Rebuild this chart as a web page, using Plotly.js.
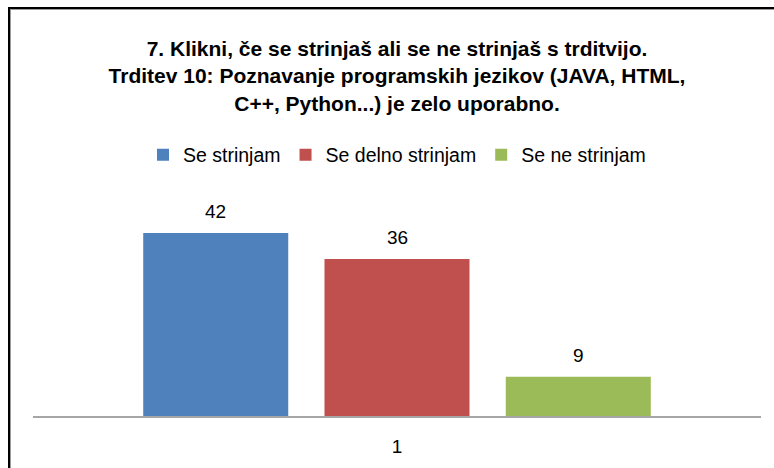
<!DOCTYPE html>
<html>
<head>
<meta charset="utf-8">
<script src="https://cdn.plot.ly/plotly-3.0.1.min.js"></script>
<style>
  html, body { margin: 0; padding: 0; background: #fff; }
  #wrap { position: relative; width: 774px; height: 468px; overflow: hidden; }
  #chart { width: 774px; height: 468px; }
  #frame {
    position: absolute; left: 8px; top: 7px; width: 900px; height: 600px;
    border-top: 2px solid #000; border-left: 2px solid #000;
    box-shadow: inset 1px 1px 0 #9a9a9a; pointer-events: none;
  }
</style>
</head>
<body>
<div id="wrap"><div id="chart"></div><div id="frame"></div></div>
<script>
const categories = ["1"];
const seriesNames = ["Se strinjam", "Se delno strinjam", "Se ne strinjam"];
const seriesValues = [[42], [36], [9]];
const seriesColors = ["#4F81BD", "#C0504D", "#9BBB59"];
const titleLines = [
  "7. Klikni, če se strinjaš ali se ne strinjaš s trditvijo.",
  "Trditev 10: Poznavanje programskih jezikov (JAVA, HTML,",
  "C++, Python...) je zelo uporabno."
];

const FONT = "Liberation Sans, Arial, sans-serif";
const bargap = 0.253;
const bargroupgap = 0.2;

const traces = seriesNames.map((name, i) => ({
  type: "bar",
  name: name,
  x: categories,
  y: seriesValues[i],
  marker: { color: seriesColors[i] },
  hoverinfo: "none"
}));

const slot = (1 - bargap) / seriesNames.length;
const annotations = [];
seriesNames.forEach((name, i) => {
  seriesValues[i].forEach((v, j) => {
    annotations.push({
      xref: "x", yref: "y",
      x: j + (i - (seriesNames.length - 1) / 2) * slot,
      y: v,
      text: String(v),
      showarrow: false,
      yanchor: "bottom",
      yshift: 9,
      font: { family: FONT, size: 19, color: "#000" }
    });
  });
});

const layout = {
  width: 774, height: 468,
  margin: { l: 33, r: 13, t: 198, b: 52 },
  paper_bgcolor: "#fff", plot_bgcolor: "#fff",
  font: { family: FONT, size: 19, color: "#000" },
  title: {
    text: "<b>" + titleLines.join("<br>") + "</b>",
    font: { family: FONT, size: 21, color: "#000" },
    x: 0.5, xref: "paper", xanchor: "center",
    y: 1 - 56 / 468, yref: "container", yanchor: "top"
  },
  barmode: "group",
  bargap: bargap,
  bargroupgap: bargroupgap,
  showlegend: true,
  legend: {
    orientation: "h",
    x: 0.5, xref: "paper", xanchor: "center",
    y: 1 - 155 / 468, yref: "container", yanchor: "middle",
    font: { family: FONT, size: 19.5, color: "#000" },
    traceorder: "normal"
  },
  xaxis: {
    type: "category",
    range: [-0.5, 0.5],
    showline: true, linecolor: "#A6A6A6", linewidth: 2,
    showgrid: false, zeroline: false,
    ticks: "outside", ticklen: 12, tickcolor: "rgba(0,0,0,0)",
    tickfont: { family: FONT, size: 19, color: "#000" },
    fixedrange: true
  },
  yaxis: {
    range: [0, 50],
    visible: false,
    showgrid: false, zeroline: false,
    fixedrange: true
  },
  annotations: annotations
};

Plotly.newPlot("chart", traces, layout, { displayModeBar: false, staticPlot: true });
</script>
</body>
</html>
